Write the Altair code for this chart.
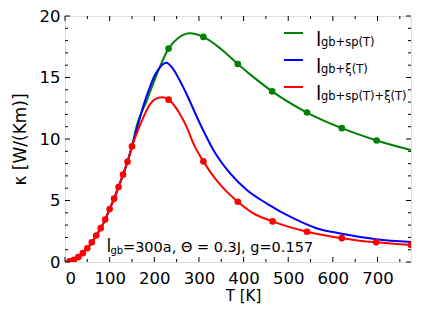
import altair as alt
import pandas as pd

# ---- data ----
T_low = [10, 20, 30, 40, 50, 60, 70, 80, 90, 100, 110, 120, 130, 140, 150]
k_low = [0.05, 0.18, 0.40, 0.72, 1.12, 1.6, 2.15, 2.75, 3.45, 4.3, 5.15, 6.1, 7.1, 8.15, 9.4]

T_red = [160, 176, 191, 205, 218, 232, 258, 273, 288, 310, 336, 360, 387, 420, 465, 542, 620, 697, 775]
k_red = [10.4, 11.8, 12.85, 13.3, 13.4, 13.2, 12.0, 10.95, 9.6, 8.18, 6.8, 5.8, 4.9, 4.0, 3.3, 2.46, 1.94, 1.6, 1.38]

T_blue = [160, 170, 180, 190, 200, 210, 220, 227, 240, 255, 269, 303, 333, 370, 408, 452, 512, 563, 620, 698, 775]
k_blue = [10.7, 12.0, 13.2, 14.2, 15.1, 15.7, 16.1, 16.2, 15.8, 14.9, 13.9, 11.2, 9.07, 7.2, 5.83, 4.75, 3.54, 2.75, 2.3, 1.85, 1.62]

T_green = [160, 183, 205, 232, 255, 280, 310, 350, 387, 425, 464, 542, 620, 698, 775]
k_green = [11.0, 13.1, 15.2, 17.35, 18.25, 18.6, 18.3, 17.3, 16.1, 14.95, 13.87, 12.15, 10.88, 9.88, 9.1]

T_mark_hi = [232, 310, 387, 465, 542, 620, 697, 775]
k_mark_red = [13.2, 8.18, 4.9, 3.3, 2.46, 1.94, 1.6, 1.38]
T_mark_green = [232, 310, 387, 464, 542, 620, 698]
k_mark_green = [17.35, 18.3, 16.1, 13.87, 12.15, 10.88, 9.88]

x_major = [0, 100, 200, 300, 400, 500, 600, 700]
x_minor = [50, 150, 250, 350, 450, 550, 650, 750]
y_major = [0, 5, 10, 15, 20]
y_minor = [v for v in range(1, 20) if v % 5 != 0]

legend_labels = ["gb+sp(T)", "gb+ξ(T)", "gb+sp(T)+ξ(T)"]
legend_colors = ["#008000", "#0000ff", "#ff0000"]
annot_main = "=300a, Θ = 0.3J, g=0.157"

W, H = 346, 246
FONT = "DejaVu Sans"

lines = pd.concat([
    pd.DataFrame({"T": T_low + T_green, "k": k_low + k_green, "s": "green"}),
    pd.DataFrame({"T": T_low + T_blue, "k": k_low + k_blue, "s": "blue"}),
    pd.DataFrame({"T": T_low + T_red, "k": k_low + k_red, "s": "red"}),
])
marks_g = pd.DataFrame({"T": T_mark_green, "k": k_mark_green})
marks_r = pd.DataFrame({"T": T_low + T_mark_hi, "k": k_low + k_mark_red})

xs = alt.Scale(domain=[0, 775], nice=False, zero=False)
ys = alt.Scale(domain=[0, 20], nice=False)

xax = alt.Axis(values=x_major, ticks=False, domain=False, grid=False, labelPadding=8,
               labelFontSize=16.5, labelFont=FONT, labelColor="black", title="T [K]",
               titleFont=FONT, titleFontSize=15, titleFontWeight="normal", titleColor="black",
               titlePadding=2, titleX=178)
yax = alt.Axis(values=y_major, ticks=False, domain=False, grid=False, labelPadding=5,
               labelFontSize=16.5, labelFont=FONT, labelColor="black", title="κ [W/(Km)]",
               titleFont=FONT, titleFontSize=17, titleFontWeight="normal", titleColor="black",
               titlePadding=10)

curves = []
for s, c in zip(["green", "blue", "red"], ["#008000", "#0000ff", "#ff0000"]):
    curves.append(
        alt.Chart(lines[lines.s == s]).mark_line(color=c, strokeWidth=2, interpolate="monotone", clip=True)
        .encode(x=alt.X("T:Q", scale=xs, axis=xax), y=alt.Y("k:Q", scale=ys, axis=yax))
    )
pts_g = alt.Chart(marks_g).mark_circle(color="#008000", size=44, opacity=1, clip=True).encode(
    x=alt.X("T:Q", scale=xs), y=alt.Y("k:Q", scale=ys))
pts_r = alt.Chart(marks_r).mark_circle(color="#ff0000", size=44, opacity=1, clip=True).encode(
    x=alt.X("T:Q", scale=xs), y=alt.Y("k:Q", scale=ys))

def xticks(vals, ln):
    df = pd.DataFrame({"v": vals})
    b = alt.Chart(df).mark_rule(color="black", strokeWidth=1)
    return [b.encode(x=alt.X("v:Q", scale=xs), y=alt.value(H), y2=alt.value(H - ln)),
            b.encode(x=alt.X("v:Q", scale=xs), y=alt.value(0), y2=alt.value(ln))]

def yticks(vals, ln):
    df = pd.DataFrame({"v": vals})
    b = alt.Chart(df).mark_rule(color="black", strokeWidth=1)
    return [b.encode(y=alt.Y("v:Q", scale=ys), x=alt.value(0), x2=alt.value(ln)),
            b.encode(y=alt.Y("v:Q", scale=ys), x=alt.value(W), x2=alt.value(W - ln))]

ticks = xticks(x_major, 5) + xticks(x_minor, 3) + yticks(y_major, 5) + yticks(y_minor, 3)

# legend (manual, to allow subscripts)
leg = []
for i, (lab, col) in enumerate(zip(legend_labels, legend_colors)):
    ly = 17 + 27 * i
    d = pd.DataFrame({"t": [lab]})
    leg.append(alt.Chart(d).mark_rule(color=col, strokeWidth=2).encode(
        x=alt.value(219), x2=alt.value(238), y=alt.value(ly)))
    leg.append(alt.Chart(d).mark_text(text="l", font=FONT, fontSize=19, align="left", baseline="alphabetic",
                                      color="black").encode(x=alt.value(251), y=alt.value(ly + 13)))
    leg.append(alt.Chart(d).mark_text(font=FONT, fontSize=11.5, align="left", baseline="alphabetic",
                                      color="black").encode(text="t:N", x=alt.value(256), y=alt.value(ly + 13)))

ad = pd.DataFrame({"t": [annot_main]})
annot = [
    alt.Chart(ad).mark_text(text="l", font=FONT, fontSize=17, align="left", baseline="alphabetic",
                            color="black").encode(x=alt.value(41.5), y=alt.value(235.5)),
    alt.Chart(ad).mark_text(text="gb", font=FONT, fontSize=10, align="left", baseline="alphabetic",
                            color="black").encode(x=alt.value(45.5), y=alt.value(238)),
    alt.Chart(ad).mark_text(font=FONT, fontSize=14.5, align="left", baseline="alphabetic",
                            color="black").encode(text="t:N", x=alt.value(58), y=alt.value(236.3)),
]

chart = alt.layer(*curves, pts_g, pts_r, *ticks, *leg, *annot).properties(
    width=W, height=H,
    autosize=alt.AutoSizeParams(type="none"),
    padding={"left": 57, "top": 8, "right": 13, "bottom": 44},
).configure_view(stroke="black", strokeWidth=1.5).configure(background="white")

chart.save("out.html", embed_options={"renderer": "svg", "actions": False})
